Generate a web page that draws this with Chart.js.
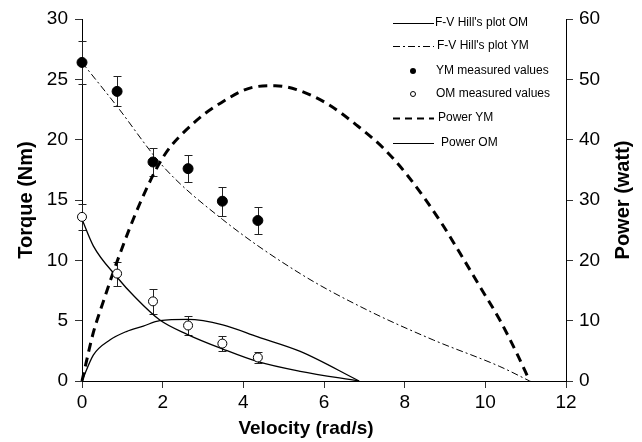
<!DOCTYPE html>
<html>
<head>
<meta charset="utf-8">
<script src="https://cdn.jsdelivr.net/npm/chart.js@4"></script>
<style>
  body { margin: 0; background: #fff; }
  #caja { width: 642px; height: 442px; }
</style>
</head>
<body>
<div id="caja"><canvas id="Grafico" width="642" height="442"></canvas></div>
<script>
//Valores medidos (velocidad en rad/s, torque en Nm)
const velMedida = [0, 0.87, 1.76, 2.63, 3.48, 4.36];
const torqueYM = [26.4, 24.0, 18.15, 17.6, 14.9, 13.3];
const errorYM = [1.75, 1.25, 1.15, 1.1, 1.2, 1.1];
const torqueOM = [13.6, 8.9, 6.6, 4.6, 3.1, 1.95];
const errorOM = [1.1, 1.0, 1.05, 0.8, 0.6, 0.45];

//Curvas de Hill (torque)
const velHillOM = [0, 0.28, 0.87, 1.3, 1.93, 2.62, 3.49, 4.36, 5.41, 6.87];
const hillOM = [13.4, 11.2, 8.6, 7.0, 5.05, 3.85, 2.65, 1.6, 0.8, 0];
const velHillYM = [0, 0.86, 2.02, 3.48, 5.41, 7.06, 8.71, 10.36, 11.1];
const hillYM = [26.4, 22.8, 17.75, 13.4, 8.9, 5.9, 3.4, 1.2, 0];

//Curvas de potencia (watt)
const velPotYM = [0, 0.28, 0.53, 0.87, 1.44, 2.02, 2.76, 3.42, 4.25, 4.79, 5.32, 6.07, 6.81, 7.47, 8.09, 8.92, 9.37, 9.87, 10.36, 10.78, 11.1];
const potenciaYM = [0, 8.0, 13.2, 19.8, 29.5, 37.2, 42.7, 46.0, 48.7, 48.95, 48.3, 46.0, 42.4, 38.6, 33.9, 26.1, 21.2, 15.6, 10.1, 4.6, 0];
const velPotOM = [0, 0.28, 0.69, 1.1, 1.52, 1.93, 2.62, 3.49, 4.36, 5.41, 6.87];
const potenciaOM = [0, 4.3, 6.8, 8.2, 9.1, 10.0, 10.2, 9.3, 7.3, 4.9, 0];

//Ticks de los ejes
const ticksX = [0, 2, 4, 6, 8, 10, 12];
const ticksTorque = [0, 5, 10, 15, 20, 25, 30];
const ticksPotencia = [0, 10, 20, 30, 40, 50, 60];

const puntos = (xs, ys) => xs.map((v, i) => ({ x: v, y: ys[i] }));
const fuente = '"Liberation Sans", Arial, Helvetica, sans-serif';

Chart.defaults.font.family = fuente;
Chart.defaults.color = '#000';

//Barras de error, dibujadas antes que los puntos
const barrasError = {
  id: 'barrasError',
  beforeDatasetsDraw(chart) {
    const ctx = chart.ctx;
    const x = chart.scales.x, y = chart.scales.y;
    ctx.save();
    ctx.strokeStyle = '#222';
    ctx.lineWidth = 1;
    [[torqueYM, errorYM], [torqueOM, errorOM]].forEach(([t, e]) => {
      velMedida.forEach((v, i) => {
        const px = Math.round(x.getPixelForValue(v)) + 0.5;
        const arriba = Math.round(y.getPixelForValue(t[i] + e[i])) + 0.5;
        const abajo = Math.round(y.getPixelForValue(t[i] - e[i])) + 0.5;
        ctx.beginPath();
        ctx.moveTo(px, arriba); ctx.lineTo(px, abajo);
        ctx.moveTo(px - 4, arriba); ctx.lineTo(px + 4, arriba);
        ctx.moveTo(px - 4, abajo); ctx.lineTo(px + 4, abajo);
        ctx.stroke();
      });
    });
    ctx.restore();
  }
};

//Leyenda dentro del área del gráfico y títulos de X y del eje derecho
const leyenda = {
  id: 'leyenda',
  afterDraw(chart) {
    const ctx = chart.ctx;
    const items = [
      { texto: "F-V Hill's plot OM", y: 23, tipo: 'linea', dash: [], ancho: 1, xt: 435 },
      { texto: "F-V Hill's plot YM", y: 46, tipo: 'linea', dash: [7, 3, 2, 3], ancho: 1, xt: 437 },
      { texto: 'YM measured values', y: 71, tipo: 'lleno', xt: 436 },
      { texto: 'OM measured values', y: 94, tipo: 'vacio', xt: 436 },
      { texto: 'Power YM', y: 118, tipo: 'linea', dash: [7, 5], ancho: 2, xt: 438 },
      { texto: 'Power OM', y: 143, tipo: 'linea', dash: [], ancho: 1, xt: 441 }
    ];
    ctx.save();
    ctx.font = '12px ' + fuente;
    ctx.textBaseline = 'middle';
    ctx.fillStyle = '#000';
    ctx.strokeStyle = '#000';
    items.forEach(it => {
      if (it.tipo === 'linea') {
        ctx.beginPath();
        ctx.setLineDash(it.dash);
        ctx.lineWidth = it.ancho;
        ctx.moveTo(393, it.y + 0.5);
        ctx.lineTo(434, it.y + 0.5);
        ctx.stroke();
        ctx.setLineDash([]);
      } else {
        ctx.beginPath();
        ctx.lineWidth = 1;
        ctx.arc(413, it.y, it.tipo === 'lleno' ? 3 : 2.5, 0, Math.PI * 2);
        if (it.tipo === 'lleno') ctx.fill(); else ctx.stroke();
      }
      ctx.fillText(it.texto, it.xt, it.y);
    });

    //títulos
    const area = chart.chartArea;
    ctx.textAlign = 'center';
    ctx.font = 'bold 19px ' + fuente;
    ctx.fillText('Velocity (rad/s)', 306, 429);
    ctx.font = 'bold 20px ' + fuente;
    ctx.translate(623, (area.top + area.bottom) / 2);
    ctx.rotate(-Math.PI / 2);
    ctx.fillText('Power (watt)', 0, 0);
    ctx.restore();
  }
};

const marcas = { display: true, drawOnChartArea: false, drawTicks: true, tickLength: 7, color: '#333' };

const contexto = document.getElementById('Grafico').getContext('2d');
const Grafico = new Chart(contexto, {
  type: 'scatter',
  data: {
    datasets: [
      {
        label: 'YM measured values',
        data: puntos(velMedida, torqueYM),
        yAxisID: 'y',
        pointRadius: 5,
        pointBackgroundColor: '#000',
        pointBorderColor: '#000',
        pointBorderWidth: 1,
        showLine: false,
        clip: false
      },
      {
        label: 'OM measured values',
        data: puntos(velMedida, torqueOM),
        yAxisID: 'y',
        pointRadius: 4.5,
        pointBackgroundColor: '#fff',
        pointBorderColor: '#000',
        pointBorderWidth: 1,
        showLine: false,
        clip: false
      },
      {
        label: "F-V Hill's plot OM",
        data: puntos(velHillOM, hillOM),
        yAxisID: 'y',
        showLine: true,
        borderColor: '#000',
        borderWidth: 1.3,
        pointRadius: 0,
        cubicInterpolationMode: 'monotone',
        clip: false
      },
      {
        label: "F-V Hill's plot YM",
        data: puntos(velHillYM, hillYM),
        yAxisID: 'y',
        showLine: true,
        borderColor: '#000',
        borderWidth: 1,
        borderDash: [7, 3, 2, 3],
        pointRadius: 0,
        cubicInterpolationMode: 'monotone',
        clip: false
      },
      {
        label: 'Power YM',
        data: puntos(velPotYM, potenciaYM),
        yAxisID: 'y1',
        showLine: true,
        borderColor: '#000',
        borderWidth: 3,
        borderDash: [9, 6],
        pointRadius: 0,
        cubicInterpolationMode: 'monotone',
        clip: false
      },
      {
        label: 'Power OM',
        data: puntos(velPotOM, potenciaOM),
        yAxisID: 'y1',
        showLine: true,
        borderColor: '#000',
        borderWidth: 1.3,
        pointRadius: 0,
        cubicInterpolationMode: 'monotone',
        clip: false
      }
    ]
  },
  options: {
    responsive: false,
    animation: false,
    layout: { padding: { top: 19, left: 0, right: 0, bottom: 0 } },
    plugins: {
      legend: { display: false },
      tooltip: { enabled: false }
    },
    scales: {
      x: {
        type: 'linear',
        min: 0,
        max: 12,
        afterBuildTicks: s => { s.ticks = ticksX.map(v => ({ value: v })); },
        ticks: { font: { size: 19 }, padding: 3, color: '#000' },
        grid: marcas,
        border: { display: true, color: '#000', width: 1 },
        title: { display: false },
        afterFit: s => { s.height = 61; }
      },
      y: {
        type: 'linear',
        position: 'left',
        min: 0,
        max: 30,
        afterBuildTicks: s => { s.ticks = ticksTorque.map(v => ({ value: v })); },
        ticks: { font: { size: 19 }, padding: 7, color: '#000' },
        grid: marcas,
        border: { display: true, color: '#000', width: 1 },
        title: { display: true, text: 'Torque (Nm)', font: { size: 20, weight: 'bold' }, padding: { top: 14, bottom: 0 } },
        afterFit: s => { s.width = 82; }
      },
      y1: {
        type: 'linear',
        position: 'right',
        min: 0,
        max: 60,
        afterBuildTicks: s => { s.ticks = ticksPotencia.map(v => ({ value: v })); },
        ticks: { font: { size: 19 }, padding: 6, color: '#000' },
        grid: marcas,
        border: { display: true, color: '#000', width: 1 },
        title: { display: false },
        afterFit: s => { s.width = 76; }
      }
    }
  },
  plugins: [barrasError, leyenda]
});
</script>
</body>
</html>
